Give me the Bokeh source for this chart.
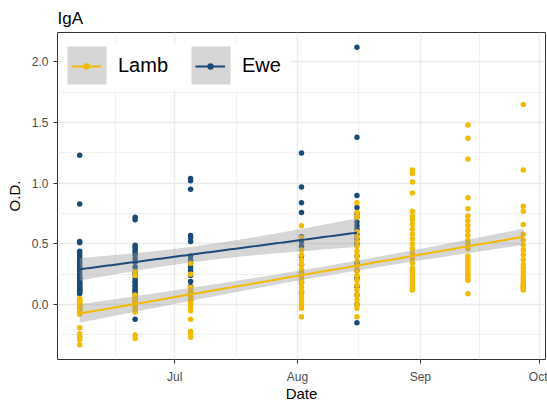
import numpy as np
from bokeh.plotting import figure
from bokeh.models import (FixedTicker, DatetimeTickFormatter, NumeralTickFormatter,
                          Legend, LegendItem, BoxAnnotation, Range1d, ColumnDataSource)
from bokeh.embed import file_html
from bokeh.resources import INLINE

# ---------------- data ----------------
sample_dates = ["2019-06-07", "2019-06-21", "2019-07-05", "2019-08-02",
                "2019-08-16", "2019-08-30", "2019-09-13", "2019-09-27"]

lamb_jun07 = [0.05, 0.04, 0.04, 0.03, 0.02, 0.01, 0.00, 0.00, -0.01, -0.02, -0.03,
              -0.04, -0.04, -0.05, -0.06, -0.08, -0.19, -0.24, -0.27, -0.29, -0.33]
lamb_jun21 = [0.27, 0.24, 0.08, 0.07, 0.06, 0.05, 0.04, 0.03, 0.02, 0.01, 0.00,
              -0.01, -0.02, -0.04, -0.06, -0.25, -0.28]
lamb_jul05 = [0.34, 0.25, 0.14, 0.13, 0.12, 0.11, 0.10, 0.09, 0.08, 0.07, 0.06,
              0.05, 0.04, 0.03, 0.02, 0.00, -0.02, -0.05, -0.12, -0.22, -0.24, -0.27]
lamb_aug02 = [0.65, 0.55, 0.45, 0.41, 0.37, 0.33, 0.29, 0.26, 0.23, 0.20, 0.17,
              0.14, 0.11, 0.08, 0.05, 0.02, -0.01, -0.03, -0.10]
lamb_aug16 = [0.84, 0.76, 0.72, 0.60, 0.56, 0.52, 0.48, 0.44, 0.40, 0.36, 0.32,
              0.28, 0.24, 0.20, 0.16, 0.12, 0.08, 0.04, 0.00, -0.03, -0.10]
lamb_aug30 = [1.11, 1.08, 1.01, 0.92, 0.77, 0.73, 0.70, 0.66, 0.62, 0.58, 0.54,
              0.50, 0.46, 0.42, 0.38, 0.34, 0.30, 0.28, 0.26, 0.24, 0.22, 0.20,
              0.18, 0.16, 0.15, 0.13, 0.12]
lamb_sep13 = [1.48, 1.37, 1.20, 0.88, 0.79, 0.73, 0.69, 0.65, 0.61, 0.57, 0.53,
              0.50, 0.46, 0.40, 0.38, 0.36, 0.34, 0.32, 0.30, 0.28, 0.26, 0.24,
              0.22, 0.20, 0.09]
lamb_sep27 = [1.65, 1.11, 0.81, 0.77, 0.66, 0.58, 0.53, 0.49, 0.45, 0.41, 0.37,
              0.33, 0.30, 0.27, 0.24, 0.22, 0.20, 0.18, 0.17, 0.16, 0.15, 0.14,
              0.13, 0.12]

ewe_jun07 = [1.23, 0.83, 0.52, 0.51, 0.44, 0.42, 0.40, 0.38, 0.36, 0.34, 0.32,
             0.30, 0.29, 0.27, 0.25, 0.23, 0.22, 0.21, 0.19, 0.18, 0.17, 0.16,
             0.15, 0.14, 0.13, 0.12, 0.12, 0.11, 0.10, 0.09]
ewe_jun21 = [0.72, 0.70, 0.49, 0.47, 0.45, 0.43, 0.41, 0.38, 0.35, 0.31, 0.27,
             0.25, 0.21, 0.19, 0.18, 0.16, 0.15, 0.13, 0.12, 0.11, 0.09, -0.12]
ewe_jul05 = [1.04, 1.02, 0.95, 0.57, 0.55, 0.52, 0.40, 0.37, 0.34, 0.31, 0.28,
             0.24, 0.19, 0.15, 0.10]
ewe_aug02 = [1.25, 0.97, 0.84, 0.76, 0.56, 0.52, 0.48, 0.40, 0.33, 0.26, 0.18,
             0.10]
ewe_aug16 = [2.12, 1.38, 0.90, 0.80, 0.75, 0.72, 0.68, 0.65, 0.62, 0.58, 0.54,
             0.50, 0.40, 0.34, 0.28, 0.22, 0.15, 0.08, 0.00, -0.15]

lamb_groups = [lamb_jun07, lamb_jun21, lamb_jul05, lamb_aug02,
               lamb_aug16, lamb_aug30, lamb_sep13, lamb_sep27]
ewe_groups = [ewe_jun07, ewe_jun21, ewe_jul05, ewe_aug02, ewe_aug16]

series_names = ["Lamb", "Ewe"]
series_colors = ["#F3BA00", "#1A4B78"]

month_ticks = ["2019-07-01", "2019-08-01", "2019-09-01", "2019-10-01"]
month_minor = ["2019-06-16", "2019-07-16T12:00", "2019-08-16T12:00", "2019-09-16"]
y_ticks = [0.0, 0.5, 1.0, 1.5, 2.0]
y_minor = [-0.25, 0.25, 0.75, 1.25, 1.75]

DAY = 86400000.0
FONT = "Liberation Sans"


def ms(s):
    return float(np.datetime64(s, "ms").astype("int64"))


def build(dates, groups):
    xs, ys = [], []
    for d, vals in zip(dates, groups):
        xs += [ms(d)] * len(vals)
        ys += list(vals)
    return np.array(xs), np.array(ys)


def lm_fit(x, y, n=80):
    d = (x - x.min()) / DAY
    b, a = np.polyfit(d, y, 1)
    g = np.linspace(0, d.max(), n)
    yhat = a + b * g
    res = y - (a + b * d)
    N = len(y)
    df = N - 2
    s = np.sqrt((res ** 2).sum() / df)
    se = s * np.sqrt(1.0 / N + (g - d.mean()) ** 2 / ((d - d.mean()) ** 2).sum())
    t = 1.96 + 2.37 / df
    return x.min() + g * DAY, yhat, yhat - t * se, yhat + t * se


lx, ly = build(sample_dates, lamb_groups)
ex, ey = build(sample_dates[:len(ewe_groups)], ewe_groups)

all_x = np.concatenate([lx, ex])
all_y = np.concatenate([ly, ey])
xpad = (all_x.max() - all_x.min()) * 0.05
ypad = (all_y.max() - all_y.min()) * 0.05

p = figure(width=547, height=404, x_axis_type="datetime",
           output_backend="svg", toolbar_location=None,
           x_range=Range1d(all_x.min() - xpad, all_x.max() + xpad),
           y_range=Range1d(all_y.min() - ypad, all_y.max() + ypad),
           min_border_left=57, min_border_right=2, min_border_top=32,
           min_border_bottom=44, title="IgA")

p.title.text_font = FONT
p.title.text_font_size = "17px"
p.title.text_font_style = "normal"
p.title.text_color = "black"
p.title.standoff = 9
p.title.offset = 0

p.outline_line_color = "#333333"
p.outline_line_width = 1
p.background_fill_color = "white"
p.border_fill_color = "white"

p.xaxis.ticker = FixedTicker(ticks=[ms(t) for t in month_ticks],
                             minor_ticks=[ms(t) for t in month_minor])
p.xaxis.formatter = DatetimeTickFormatter(days="%b", months="%b", years="%b")
p.yaxis.ticker = FixedTicker(ticks=y_ticks, minor_ticks=y_minor)
p.yaxis.formatter = NumeralTickFormatter(format="0.0")
p.xaxis.axis_label = "Date"
p.yaxis.axis_label = "O.D."

for ax in (p.xaxis[0], p.yaxis[0]):
    ax.axis_line_color = None
    ax.major_tick_line_color = "#333333"
    ax.major_tick_in = 0
    ax.major_tick_out = 4
    ax.minor_tick_line_color = None
    ax.major_label_text_font = FONT
    ax.major_label_text_font_size = "12px"
    ax.major_label_text_color = "#4D4D4D"
    ax.axis_label_text_font = FONT
    ax.axis_label_text_font_size = "15px"
    ax.axis_label_text_font_style = "normal"
    ax.axis_label_text_color = "black"
p.xaxis.major_label_standoff = 6
p.xaxis.axis_label_standoff = -2
p.yaxis.major_label_standoff = 5
p.yaxis.axis_label_standoff = 6

for g in (p.xgrid[0], p.ygrid[0]):
    g.grid_line_color = "#EBEBEB"
    g.grid_line_width = 1.4
    g.minor_grid_line_color = "#EBEBEB"
    g.minor_grid_line_width = 0.7

# points
ewe_pts = p.scatter(ex, ey, size=5.5, color=series_colors[1], line_color=None)
lamb_pts = p.scatter(lx, ly, size=5.5, color=series_colors[0], line_color=None)

# smooth (lm) with 95% band
renderers = {}
for name, col, x, y in [("Lamb", series_colors[0], lx, ly), ("Ewe", series_colors[1], ex, ey)]:
    fx, fy, lo, hi = lm_fit(x, y)
    src = ColumnDataSource(dict(x=fx, y=fy, lo=lo, hi=hi))
    p.varea(x="x", y1="lo", y2="hi", source=src, fill_color="#999999", fill_alpha=0.4)
    ln = p.line(x="x", y="y", source=src, line_color=col, line_width=2)
    renderers[name] = ln

# legend background and key boxes (canvas px)
p.add_layout(BoxAnnotation(left=62, right=290, top=44, bottom=89,
                           left_units="canvas", right_units="canvas",
                           top_units="canvas", bottom_units="canvas",
                           fill_color="white", fill_alpha=1.0, line_color=None))
for l0 in (67, 191):
    p.add_layout(BoxAnnotation(left=l0, right=l0 + 39, top=46, bottom=84,
                               left_units="canvas", right_units="canvas",
                               top_units="canvas", bottom_units="canvas",
                               fill_color="#999999", fill_alpha=0.4, line_color=None))

legend = Legend(items=[LegendItem(label=series_names[0], renderers=[renderers["Lamb"], lamb_pts]),
                       LegendItem(label=series_names[1], renderers=[renderers["Ewe"], ewe_pts])],
                orientation="horizontal", location=(14, 282),
                glyph_width=30, glyph_height=16, label_standoff=17, label_width=77,
                spacing=0, padding=0, margin=0,
                background_fill_alpha=0, border_line_color=None,
                label_text_font=FONT, label_text_font_size="20px",
                label_text_color="black")
p.add_layout(legend)

open("out.html", "w").write(file_html(p, INLINE))
